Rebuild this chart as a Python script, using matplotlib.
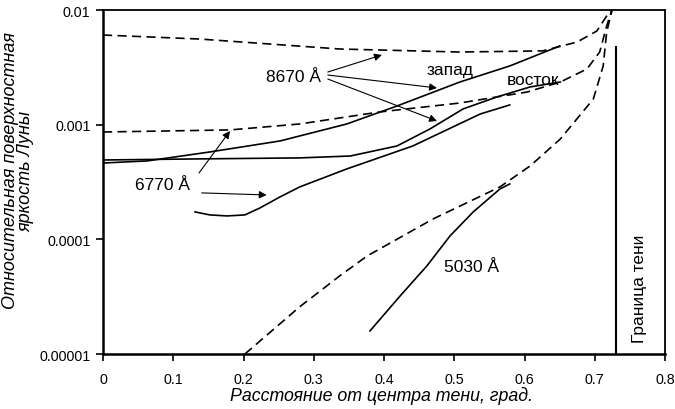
import matplotlib
matplotlib.use("Agg")
import matplotlib.pyplot as plt
from matplotlib.ticker import FixedLocator, FixedFormatter

plt.rcParams['font.family'] = ['Liberation Sans', 'DejaVu Sans']

# ---- data ----
# dashed curves
d1_x = [0.0, 0.138, 0.337, 0.508, 0.626, 0.675, 0.703, 0.717, 0.7255]
d1_y = [0.00605, 0.00558, 0.00457, 0.00430, 0.00440, 0.00526, 0.00656, 0.00887, 0.0105]

d2_x = [0.0, 0.181, 0.280, 0.394, 0.508, 0.604, 0.651, 0.689, 0.707, 0.717, 0.7255]
d2_y = [0.000863, 0.000900, 0.001014, 0.001291, 0.001545, 0.001928, 0.002355,
        0.003062, 0.00430, 0.00726, 0.0105]

d3_x = [0.202, 0.280, 0.337, 0.376, 0.470, 0.565, 0.608, 0.651, 0.698, 0.712, 0.717, 0.7255]
d3_y = [1.0e-5, 2.58e-5, 4.80e-5, 7.16e-5, 1.507e-4, 2.864e-4, 4.365e-4, 7.50e-4,
        1.675e-3, 3.25e-3, 6.43e-3, 1.05e-2]

# solid curves
west_x = [0.0, 0.063, 0.152, 0.252, 0.347, 0.4185, 0.508, 0.579, 0.65]
west_y = [4.63e-4, 4.83e-4, 5.78e-4, 7.21e-4, 1.014e-3, 1.455e-3, 2.355e-3, 3.25e-3, 4.85e-3]

east_x = [0.0, 0.138, 0.280, 0.352, 0.4185, 0.4655, 0.5125, 0.561, 0.608, 0.651]
east_y = [4.92e-4, 5.03e-4, 5.13e-4, 5.33e-4, 6.52e-4, 9.18e-4, 1.371e-3, 1.746e-3,
          2.133e-3, 2.355e-3]

r6770_x = [0.131, 0.152, 0.1765, 0.202, 0.2235, 0.252, 0.280, 0.347, 0.441, 0.537, 0.579]
r6770_y = [1.734e-4, 1.633e-4, 1.600e-4, 1.633e-4, 1.879e-4, 2.344e-4, 2.864e-4,
           4.11e-4, 6.52e-4, 1.239e-3, 1.486e-3]

r5030_x = [0.380, 0.423, 0.461, 0.494, 0.527, 0.565, 0.579]
r5030_y = [1.589e-5, 3.21e-5, 5.86e-5, 1.071e-4, 1.734e-4, 2.748e-4, 3.04e-4]

boundary_x = [0.73, 0.73]
boundary_y = [1e-5, 0.00476]

x_ticks = [0, 0.1, 0.2, 0.3, 0.4, 0.5, 0.6, 0.7, 0.8]
x_tick_labels = ['0', '0.1', '0.2', '0.3', '0.4', '0.5', '0.6', '0.7', '0.8']
y_ticks = [1e-5, 1e-4, 1e-3, 1e-2]
y_tick_labels = ['0.00001', '0.0001', '0.001', '0.01']

# ---- figure ----
fig = plt.figure(figsize=(6.75, 4.10), dpi=100)
ax = fig.add_axes([103/675, 1-355/410, (665-103)/675, (355-11)/410])
ax.set_yscale('log')
ax.set_xlim(0, 0.8)
ax.set_ylim(1e-5, 1e-2)

lw = 1.2
dash = (0, (5.5, 3.2))
ax.plot(d1_x, d1_y, color='black', lw=lw, linestyle=dash)
ax.plot(d2_x, d2_y, color='black', lw=lw, linestyle=dash)
ax.plot(d3_x, d3_y, color='black', lw=lw, linestyle=dash)
ax.plot(west_x, west_y, color='black', lw=lw)
ax.plot(east_x, east_y, color='black', lw=lw)
ax.plot(r6770_x, r6770_y, color='black', lw=lw)
ax.plot(r5030_x, r5030_y, color='black', lw=lw)
ax.plot(boundary_x, boundary_y, color='black', lw=1.5, clip_on=False)

# ticks
ax.xaxis.set_major_locator(FixedLocator(x_ticks))
ax.xaxis.set_major_formatter(FixedFormatter(x_tick_labels))
ax.yaxis.set_major_locator(FixedLocator(y_ticks))
ax.yaxis.set_major_formatter(FixedFormatter(y_tick_labels))
ax.yaxis.set_minor_locator(FixedLocator([]))
ax.tick_params(axis='both', which='major', direction='out', length=5, width=1.2,
               labelsize=10.3, pad=8)
ax.tick_params(axis='y', pad=4)
for side in ['left', 'bottom']:
    ax.spines[side].set_linewidth(1.8)
for side in ['top', 'right']:
    ax.spines[side].set_linewidth(1.3)

ax.set_xlabel('Расстояние от центра тени, град.', fontsize=12.8, style='italic')
ax.xaxis.set_label_coords(0.495, -0.092)
ax.set_ylabel('Относительная поверхностная\nяркость Луны', fontsize=13, style='italic',
              linespacing=0.85)
ax.yaxis.set_label_coords(-0.1228, 0.535)

# annotations
tfs = 12.5
ax.text(0.2705, 10**-2.584, '8670 Å', fontsize=tfs, ha='center', va='center')
ax.text(0.494, 10**-2.523, 'запад', fontsize=tfs, ha='center', va='center')
ax.text(0.612, 10**-2.602, 'восток', fontsize=tfs, ha='center', va='center')
ax.text(0.0854, 10**-3.526, '6770 Å', fontsize=tfs, ha='center', va='center')
ax.text(0.525, 10**-4.241, '5030 Å', fontsize=tfs, ha='center', va='center')
ax.text(0.764, 10**-4.424, 'Граница тени', fontsize=tfs, ha='center', va='center',
        rotation=90)

ap = dict(arrowstyle='-|>', lw=0.8, color='black', mutation_scale=11,
          shrinkA=0, shrinkB=0)
arrows = [
    ((0.320, 10**-2.541), (0.397, 10**-2.392)),
    ((0.320, 10**-2.567), (0.4754, 10**-2.680)),
    ((0.320, 10**-2.602), (0.4754, 10**-2.968)),
    ((0.1367, 10**-3.421), (0.1808, 10**-3.055)),
    ((0.1405, 10**-3.595), (0.233, 10**-3.613)),
]
for start, end in arrows:
    ax.annotate('', xy=end, xytext=start, arrowprops=ap)

fig.savefig('out.png', dpi=100)
